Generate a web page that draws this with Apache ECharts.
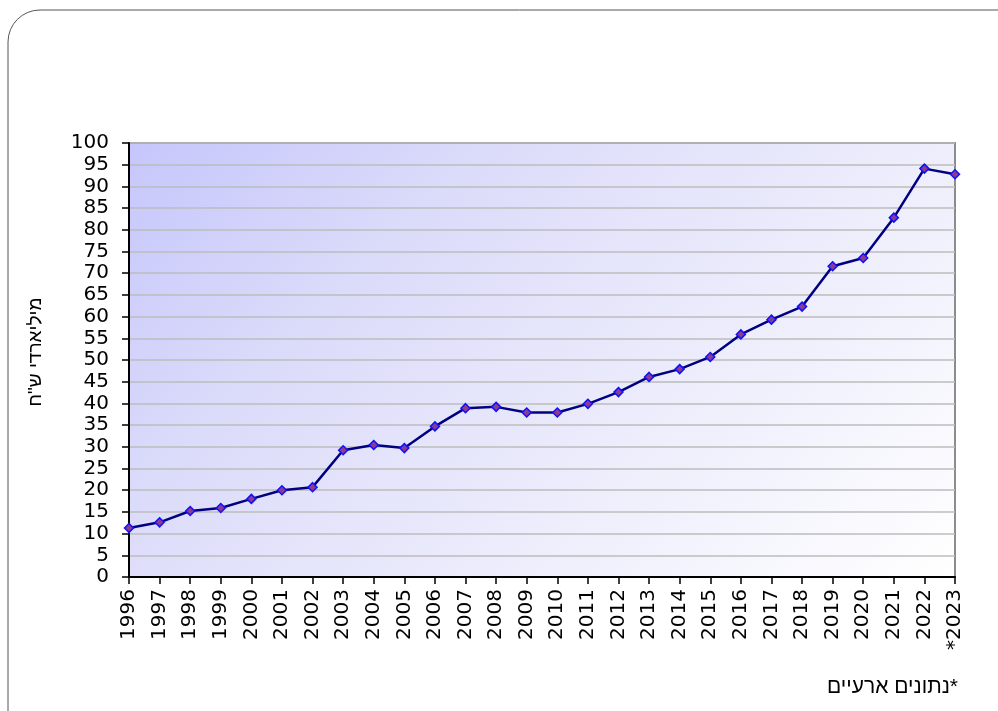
<!DOCTYPE html>
<html>
<head>
<meta charset="utf-8">
<script src="https://cdn.jsdelivr.net/npm/echarts@6/dist/echarts.min.js"></script>
<style>
	html, body { margin: 0; padding: 0; background: #fff; }
	#main { width: 998px; height: 711px; }
</style>
</head>
<body>
<div id="main"></div>
<script>
/* שנים */
const years = [
	"1996", "1997", "1998", "1999", "2000", "2001", "2002", "2003", "2004", "2005",
	"2006", "2007", "2008", "2009", "2010", "2011", "2012", "2013", "2014", "2015",
	"2016", "2017", "2018", "2019", "2020", "2021", "2022", "*2023",
];
/* מיליארדי ש"ח */
const values = [
	11.3, 12.6, 15.2, 15.9, 18.0, 20.0, 20.7, 29.2, 30.4, 29.7,
	34.7, 38.9, 39.2, 37.9, 37.9, 39.9, 42.6, 46.1, 47.9, 50.7,
	55.9, 59.3, 62.3, 71.6, 73.5, 82.8, 94.1, 92.8,
];
const yTicks = { min: 0, max: 100, interval: 5 };
const yName = "מיליארדי ש\"ח";
const footnote = "נתונים ארעיים*";

const chart = echarts.init(document.getElementById("main"));
const font = "Arial, 'Liberation Sans', sans-serif";
const numFont = "'DejaVu Sans', Arial, sans-serif";

chart.setOption({
	animation: false,
	backgroundColor: "#ffffff",
	grid: {
		left: 129,
		right: 43,
		top: 143,
		bottom: 134,
		show: true,
		borderColor: "#8c8c8c",
		borderWidth: 2,
		/* שיפוע אלכסוני בפיקסלים */
		backgroundColor: new echarts.graphic.LinearGradient(129, 143, 759, 773, [
			{ offset: 0, color: "#c6c6fc" },
			{ offset: 0.3, color: "#dcdcfa" },
			{ offset: 0.6, color: "#ebebfc" },
			{ offset: 1, color: "#ffffff" },
		], true),
	},
	graphic: [
		{
			type: "rect",
			silent: true,
			shape: { x: 8, y: 10, width: 1040, height: 760, r: 32 },
			style: { fill: "none", stroke: "#555555", lineWidth: 1 },
			z: -1,
		},
		{
			type: "text",
			right: 40,
			top: 677,
			style: {
				text: footnote,
				font: "21px " + font,
				fill: "#000000",
			},
		},
	],
	xAxis: {
		type: "category",
		data: years,
		boundaryGap: false,
		axisLine: { lineStyle: { color: "#000000", width: 2 } },
		axisTick: { show: true, length: 7, lineStyle: { color: "#000000", width: 1.5 } },
		axisLabel: {
			interval: 0,
			rotate: 90,
			margin: 12,
			color: "#000000",
			fontSize: 20,
			fontFamily: numFont,
		},
		splitLine: { show: false },
	},
	yAxis: {
		type: "value",
		min: yTicks.min,
		max: yTicks.max,
		interval: yTicks.interval,
		name: yName,
		nameLocation: "middle",
		nameGap: 84,
		nameRotate: 90,
		nameTextStyle: { fontSize: 19, fontFamily: font, color: "#000000", padding: [0, 0, 0, 16] },
		axisLine: { show: true, lineStyle: { color: "#000000", width: 2 } },
		axisTick: { show: true, length: 7, lineStyle: { color: "#000000", width: 1.5 } },
		axisLabel: {
			margin: 20,
			color: "#000000",
			fontSize: 20,
			fontFamily: numFont,
		},
		splitLine: { lineStyle: { color: "#bdbdbd", width: 1.5 } },
	},
	series: [
		{
			type: "line",
			data: values,
			symbol: "diamond",
			symbolSize: 9,
			lineStyle: { color: "#000080", width: 2.5 },
			itemStyle: { color: "#8e3a8e", borderColor: "#1010ff", borderWidth: 1.5 },
			z: 3,
		},
	],
});
</script>
</body>
</html>
